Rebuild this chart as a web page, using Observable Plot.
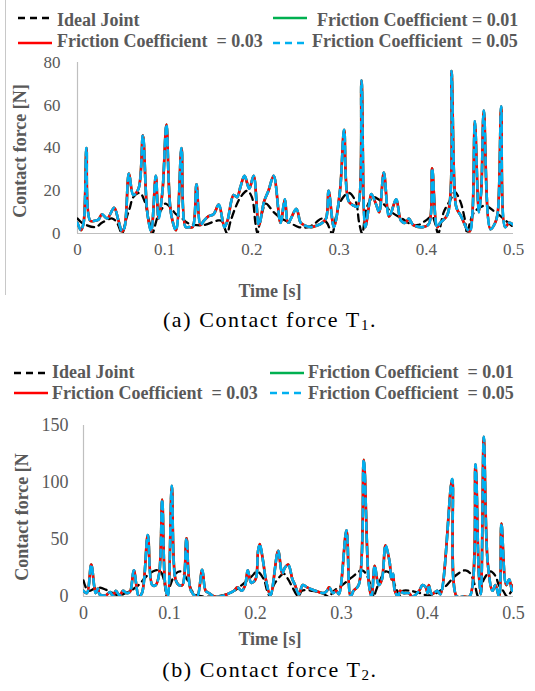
<!DOCTYPE html>
<html>
<head>
<meta charset="utf-8">
<script src="https://cdn.jsdelivr.net/npm/d3@7"></script>
<script src="https://cdn.jsdelivr.net/npm/@observablehq/plot@0.6"></script>
<style>
  body { margin:0; width:535px; height:691px; position:relative; background:#fff; overflow:hidden; font-family:"Liberation Serif","Times New Roman",Times,"DejaVu Serif",serif; }
  .abs { position:absolute; white-space:pre; }
  .leg { font-weight:bold; font-size:18px; line-height:20px; color:#595959; }
  .ttl { font-weight:bold; font-size:18px; line-height:20px; color:#595959; }
  .cap { font-size:22px; line-height:22px; color:#000; letter-spacing:1.6px; }
  .cap sub { font-size:15px; vertical-align:-3px; line-height:0; }
</style>
</head>
<body>
<div class="abs" style="left:5px;top:0;width:1px;height:295px;background:#c8c8c8"></div>
<div id="root"></div>
<script>
// ---------- data (time [s], contact force [N]) ----------
const xTicks = [0, 0.1, 0.2, 0.3, 0.4, 0.5];
const yTicksT1 = [0, 20, 40, 60, 80];
const yTicksT2 = [0, 50, 100, 150];

const legendLabelsT1 = ["Ideal Joint", "Friction Coefficient = 0.01", "Friction Coefficient  = 0.03", "Friction Coefficient  = 0.05"];
const legendLabelsT2 = ["Ideal Joint", "Friction Coefficient  = 0.01", "Friction Coefficient  = 0.03", "Friction Coefficient  = 0.05"];

// T1 ideal joint
const idealT1 = [
[0.000,7],[0.005,5],[0.0098,4],[0.021,3],[0.028,5],[0.040,7],[0.046,4.5],[0.051,0],[0.056,7],[0.060,12],
[0.064,17],[0.0715,19],[0.077,15],[0.0826,5],[0.0857,0],[0.092,8],[0.0975,12],[0.1008,14],[0.107,12],[0.113,9],
[0.120,7],[0.126,5],[0.134,4],[0.145,4],[0.160,6],[0.165,6],[0.1716,0],[0.175,5],[0.181,12],[0.187,17],
[0.1946,20],[0.200,17],[0.204,5],[0.2064,0],[0.209,5],[0.216,14],[0.221,12],[0.225,10],[0.234,7],[0.244,5],
[0.2536,3],[0.265,3],[0.273,5],[0.280,7],[0.286,5],[0.292,0],[0.296,7],[0.3015,15],[0.311,19],[0.319,15],
[0.323,5],[0.3265,0],[0.3315,12],[0.339,17],[0.345,16],[0.353,13],[0.360,10],[0.372,7],[0.384,4],[0.391,4],
[0.399,6],[0.4067,8],[0.410,5],[0.4136,0],[0.420,10],[0.428,16],[0.4327,19.5],[0.439,15],[0.444,7],[0.4469,0],
[0.450,5],[0.455,10],[0.467,13],[0.479,10],[0.4885,7],[0.494,5],[0.500,3]
];

// T1 friction coefficient 0.01 / 0.03 / 0.05 (curves coincide in the figure)
const frictionT1 = [
[0.000,5],[0.004,1.5],[0.007,5],[0.0103,40],[0.0145,6],[0.020,6],[0.024,6.5],[0.028,9],[0.034,7],[0.042,12],
[0.047,6],[0.051,1],[0.054,3],[0.059,28],[0.064,18],[0.070,21],[0.075,46],[0.080,10],[0.0845,1],[0.0898,27],
[0.093,7],[0.0975,20],[0.102,51],[0.107,10],[0.113,1.5],[0.1193,40],[0.124,3],[0.128,3],[0.132,3],[0.1365,23],
[0.141,4],[0.145,6],[0.150,8],[0.156,9],[0.162,13.5],[0.1685,3],[0.172,6],[0.179,18],[0.183,17],[0.187,22],
[0.1915,27],[0.197,21],[0.202,27],[0.208,4],[0.214,15],[0.219,20],[0.225,27],[0.2328,5],[0.2378,16],[0.2416,5],
[0.251,11.5],[0.256,5],[0.262,3.5],[0.268,3],[0.273,3.5],[0.279,4.5],[0.285,7],[0.288,20],[0.294,3],[0.301,20],
[0.3058,48.5],[0.311,15],[0.317,13],[0.321,12.5],[0.3257,71.5],[0.330,3],[0.335,15],[0.337,18.5],[0.343,13],[0.346,10],
[0.3513,28.5],[0.357,8],[0.359,9],[0.3655,16],[0.371,6],[0.376,5],[0.380,7],[0.385,4],[0.396,3],[0.403,4.5],
[0.4067,30.5],[0.4125,3],[0.416,5],[0.4245,9],[0.4289,76],[0.432,25],[0.4346,12],[0.440,8],[0.4469,2],[0.450,1],
[0.453,10],[0.4557,52.5],[0.4603,10],[0.463,20],[0.466,57.5],[0.4736,2],[0.479,5],[0.482,10],[0.4859,59.5],[0.4905,3],
[0.495,5],[0.500,4]
];

// T2 ideal joint
const idealT2 = [
[0.000,14],[0.0055,5],[0.0163,8],[0.026,6],[0.0337,3],[0.0411,1],[0.0488,3],[0.0547,5],[0.064,10],[0.0736,18],
[0.0837,23],[0.0895,22],[0.0934,15],[0.097,0],[0.101,10],[0.107,20],[0.1128,22],[0.1205,15],[0.126,5],[0.132,1],
[0.140,0],[0.152,0],[0.167,2],[0.175,5],[0.184,10],[0.196,18],[0.2019,22],[0.2097,15],[0.2136,5],[0.217,0],
[0.2213,10],[0.229,18],[0.2329,20],[0.238,15],[0.243,8],[0.250,0],[0.254,5],[0.2659,5],[0.2775,3],[0.2853,0],
[0.2911,5],[0.3008,10],[0.3124,17],[0.324,23],[0.3298,18],[0.3357,5],[0.3376,0],[0.340,5],[0.3453,15],[0.3512,22],
[0.357,20],[0.361,12],[0.3647,5],[0.3686,0],[0.3717,5],[0.380,5],[0.3915,3],[0.3992,1],[0.407,2],[0.4147,5],
[0.4225,10],[0.432,18],[0.4442,23],[0.450,20],[0.455,10],[0.459,0],[0.462,5],[0.4655,15],[0.4733,22],[0.479,18],
[0.483,10],[0.488,5],[0.4926,0],[0.498,5],[0.500,6]
];

// T2 friction coefficient 0.01 / 0.03 / 0.05 (curves coincide in the figure)
const frictionT2 = [
[0.000,5],[0.004,3],[0.009,28],[0.0142,3],[0.017,7],[0.0186,2],[0.026,1],[0.031,4],[0.034,0.5],[0.0376,5],
[0.042,1],[0.046,5],[0.050,3],[0.054,4],[0.0585,23],[0.0643,0],[0.068,3],[0.0748,54],[0.080,10],[0.084,10],
[0.088,20],[0.0915,85],[0.095,10],[0.098,0],[0.1027,97],[0.107,15],[0.111,10],[0.115,10],[0.1198,51],[0.125,5],
[0.132,0],[0.138,23.5],[0.142,5],[0.146,3],[0.152,0],[0.159,0],[0.167,2],[0.175,5],[0.179,8],[0.184,5],
[0.188,10],[0.191,23],[0.195,12],[0.200,15],[0.203,40],[0.205,46],[0.209,30],[0.212,15],[0.2174,1],[0.2263,40],
[0.231,20],[0.234,25],[0.238,28],[0.243,15],[0.246,10],[0.2504,2],[0.255,10],[0.260,8],[0.2665,6],[0.2795,3],
[0.283,5],[0.2857,8],[0.290,3],[0.294,5],[0.297,2],[0.3058,58],[0.3105,0],[0.314,5],[0.320,10],[0.3259,120],
[0.332,10],[0.335,0],[0.3386,27],[0.3432,10],[0.347,15],[0.3512,45],[0.356,30],[0.358,15],[0.360,20],[0.362,5],
[0.366,0],[0.368,5],[0.372,3],[0.378,3],[0.3826,0],[0.3903,5],[0.3942,10],[0.398,8],[0.400,3],[0.4015,10],
[0.405,2],[0.4114,5],[0.415,2],[0.4287,103],[0.434,0],[0.442,0],[0.449,0],[0.4558,116],[0.4597,20],[0.462,2],
[0.4655,140],[0.470,30],[0.4756,5],[0.479,10],[0.4833,0],[0.486,64],[0.4915,10],[0.495,15],[0.4984,5],[0.500,10]
];

// ---------- styles ----------
const colIdeal = "#000000", col001 = "#00b050", col003 = "#ff0000", col005 = "#00b0f0";
const serifStack = "'Liberation Serif','Times New Roman',Times,'DejaVu Serif',serif";

const root = document.getElementById("root");

function addDiv(cls, style, html) {
  const d = document.createElement("div");
  d.className = "abs " + cls;
  d.setAttribute("style", style);
  d.innerHTML = html;
  root.appendChild(d);
  return d;
}

function swatch(x, y, color, dash) {
  const ns = "http://www.w3.org/2000/svg";
  const s = document.createElementNS(ns, "svg");
  s.setAttribute("width", 36); s.setAttribute("height", 6);
  s.setAttribute("style", `position:absolute;left:${x}px;top:${y - 3}px`);
  const l = document.createElementNS(ns, "line");
  l.setAttribute("x1", 0); l.setAttribute("x2", 34); l.setAttribute("y1", 3); l.setAttribute("y2", 3);
  l.setAttribute("stroke", color); l.setAttribute("stroke-width", 2.5);
  if (dash) l.setAttribute("stroke-dasharray", "7,5");
  s.appendChild(l);
  root.appendChild(s);
}

function chart(ideal, fric, yMax, yTicks, m, tickFont, padX, padY) {
  const X = d => d[0], Y = d => d[1];
  const c = "catmull-rom";
  return Plot.plot({
    width: 535, height: 250,
    marginTop: m[0], marginRight: m[1], marginBottom: m[2], marginLeft: m[3],
    style: {fontFamily: serifStack, fontSize: tickFont + "px", color: "#595959", background: "transparent", overflow: "visible"},
    x: {domain: [0, 0.5]},
    y: {domain: [0, yMax]},
    marks: [
      Plot.axisX({ticks: xTicks, tickSize: 0, tickPadding: padX, label: null, tickFormat: d => String(d)}),
      Plot.axisY({ticks: yTicks, tickSize: 0, tickPadding: padY, label: null}),
      Plot.ruleY([0], {stroke: "#bfbfbf", strokeWidth: 1.2}),
      Plot.ruleX([0], {stroke: "#bfbfbf", strokeWidth: 1.2}),
      Plot.line(ideal, {x: X, y: Y, stroke: colIdeal, strokeWidth: 2.3, strokeDasharray: "7,5", curve: c, clip: true}),
      Plot.line(fric, {x: X, y: Y, stroke: col001, strokeWidth: 2.6, curve: c, clip: true}),
      Plot.line(fric, {x: X, y: Y, stroke: col003, strokeWidth: 2.6, curve: c, clip: true}),
      Plot.line(fric, {x: X, y: Y, stroke: col005, strokeWidth: 2.6, strokeDasharray: "7,5", curve: c, clip: true})
    ]
  });
}

// ---------- panel (a) ----------
swatch(18, 18, colIdeal, true);
addDiv("leg", "left:57px;top:10px", legendLabelsT1[0]);
swatch(273, 18, col001, false);
addDiv("leg", "left:317px;top:10px", legendLabelsT1[1]);
swatch(18, 43, col003, false);
addDiv("leg", "left:57px;top:31px", legendLabelsT1[2]);
swatch(273, 43, col005, true);
addDiv("leg", "left:312px;top:31px", legendLabelsT1[3]);

const pA = chart(idealT1, frictionT1, 80, yTicksT1, [12, 22, 67, 77], 17, 9, 17);
pA.style.position = "absolute"; pA.style.left = "0px"; pA.style.top = "50px";
root.appendChild(pA);
addDiv("ttl", "left:270px;top:281px;transform:translateX(-50%)", "Time [s]");
addDiv("ttl", "left:20px;top:151px;transform:translate(-50%,-50%) rotate(-90deg)", "Contact force [N]");
addDiv("cap", "left:270px;top:309px;transform:translateX(-50%)", "(a) Contact force T<sub>1</sub>.");

// ---------- panel (b) ----------
swatch(14, 373, colIdeal, true);
addDiv("leg", "left:52px;top:362px", legendLabelsT2[0]);
swatch(270, 373, col001, false);
addDiv("leg", "left:308px;top:362px", legendLabelsT2[1]);
swatch(14, 393, col003, false);
addDiv("leg", "left:52px;top:383px", legendLabelsT2[2]);
swatch(270, 393, col005, true);
addDiv("leg", "left:308px;top:383px", legendLabelsT2[3]);

const pB = chart(idealT2, frictionT2, 150, yTicksT2, [15, 22, 64, 83], 18, 10, 15);
pB.style.position = "absolute"; pB.style.left = "0px"; pB.style.top = "410px";
root.appendChild(pB);
addDiv("ttl", "left:270px;top:629px;transform:translateX(-50%)", "Time [s]");
addDiv("ttl", "left:22px;top:517px;transform:translate(-50%,-50%) rotate(-90deg)", "Contact force [N");
addDiv("cap", "left:270px;top:659px;transform:translateX(-50%)", "(b) Contact force T<sub>2</sub>.");
</script>
</body>
</html>
